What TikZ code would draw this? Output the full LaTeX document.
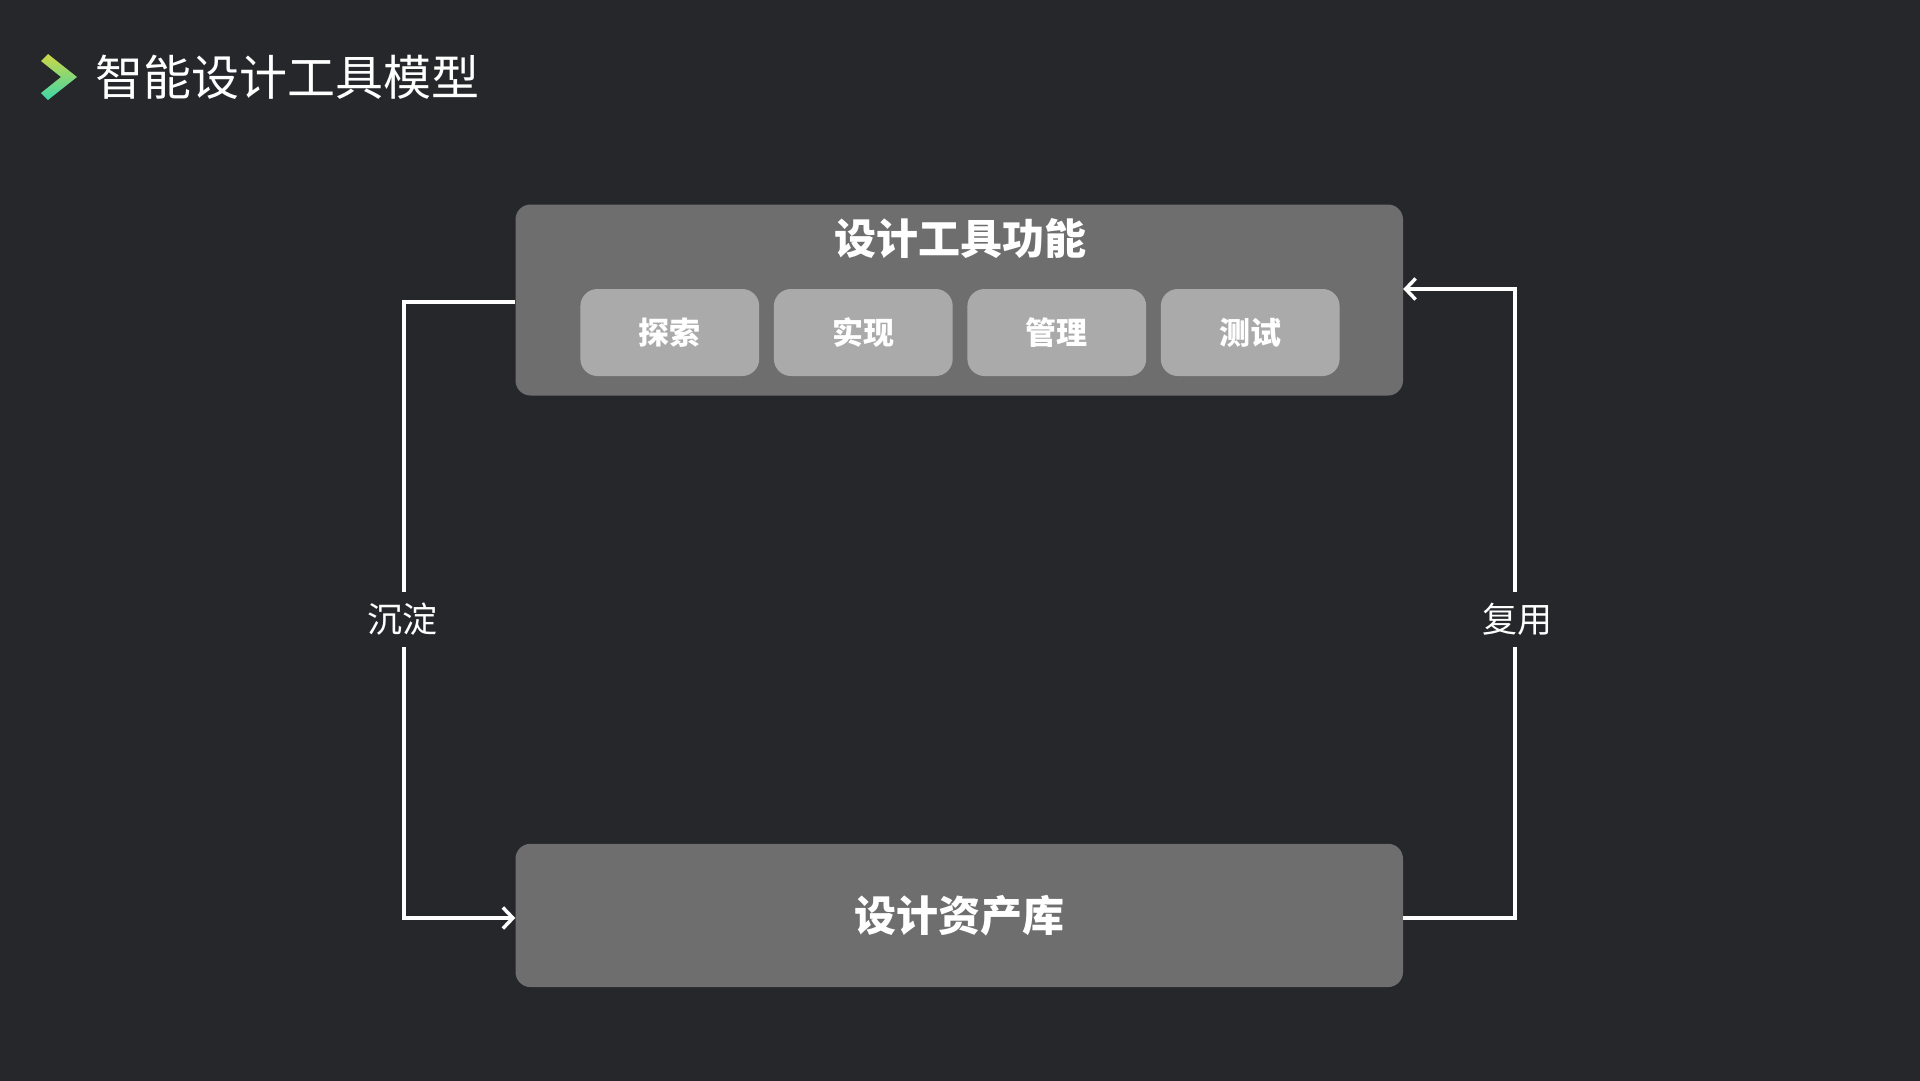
\documentclass[tikz,border=0pt]{standalone}
\usepackage{fontspec}
\setmainfont{Noto Sans CJK SC}
\usetikzlibrary{arrows.meta,calc}
\definecolor{bgc}{RGB}{38,39,43}
\definecolor{boxc}{RGB}{110,110,110}
\definecolor{innerc}{RGB}{170,170,170}
\definecolor{iconA}{RGB}{205,215,70}
\definecolor{iconB}{RGB}{60,215,170}
\tikzset{
  bigbox/.style={fill=boxc, rounded corners=15pt, draw=none, inner sep=0pt},
  smallbox/.style={fill=innerc, rounded corners=17pt, draw=none, minimum width=178.8pt, minimum height=87pt, inner sep=0pt, text=white, font=\fontsize{31}{34}\selectfont\bfseries},
  boxtitle/.style={text=white, inner sep=0pt, font=\fontsize{42}{46}\selectfont\bfseries},
  conn/.style={draw=white, line width=3.5pt, line join=miter, -{Straight Barb[length=10pt,width=21pt,line width=3.5pt]}},
  sidelbl/.style={fill=bgc, text=white, inner xsep=3pt, inner ysep=11pt, font=\fontsize{35}{38}\selectfont},
  maintitle/.style={text=white, inner sep=0pt, anchor=west, font=\fontsize{48}{52}\selectfont}
}
\begin{document}
\begin{tikzpicture}[x=1pt,y=-1pt]
\useasboundingbox (0,0) rectangle (1920,1080);
\fill[bgc] (-2,-2) rectangle (1922,1082);
% title icon
\shade[top color=iconA, bottom color=iconB] (41,61) -- (48,54) -- (77,77) -- (48,100) -- (41,93) -- (61,77) -- cycle;
\node[maintitle] (title) at (95,77) {智能设计工具模型};
% top box
\node[bigbox, minimum width=887.5pt, minimum height=191pt] (top) at (959.25,300) {};
\node[boxtitle] (toptitle) at (960,239) {设计工具功能};
\node[smallbox] (s1) at (669.8,332.5) {探索};
\node[smallbox] (s2) at (863.3,332.5) {实现};
\node[smallbox] (s3) at (1056.8,332.5) {管理};
\node[smallbox] (s4) at (1250.2,332.5) {测试};
% bottom box
\node[bigbox, minimum width=887.5pt, minimum height=143.3pt, text=white, font=\fontsize{42}{46}\selectfont\bfseries] (bot) at (959.25,915.4) {设计资产库};
% connectors
\coordinate (L) at (404,302);
\coordinate (Lb) at (404,918);
\draw[conn] (top.west |- L) -- (L) -- (Lb) -- (bot.west |- Lb);
\coordinate (R) at (1515,289);
\coordinate (Rb) at (1515,918);
\draw[conn] (bot.east |- Rb) -- (Rb) -- (R) -- (top.east |- R);
\node[sidelbl] (lblL) at (402,619.6) {沉淀};
\node[sidelbl] (lblR) at (1517,619.6) {复用};
\end{tikzpicture}
\end{document}
